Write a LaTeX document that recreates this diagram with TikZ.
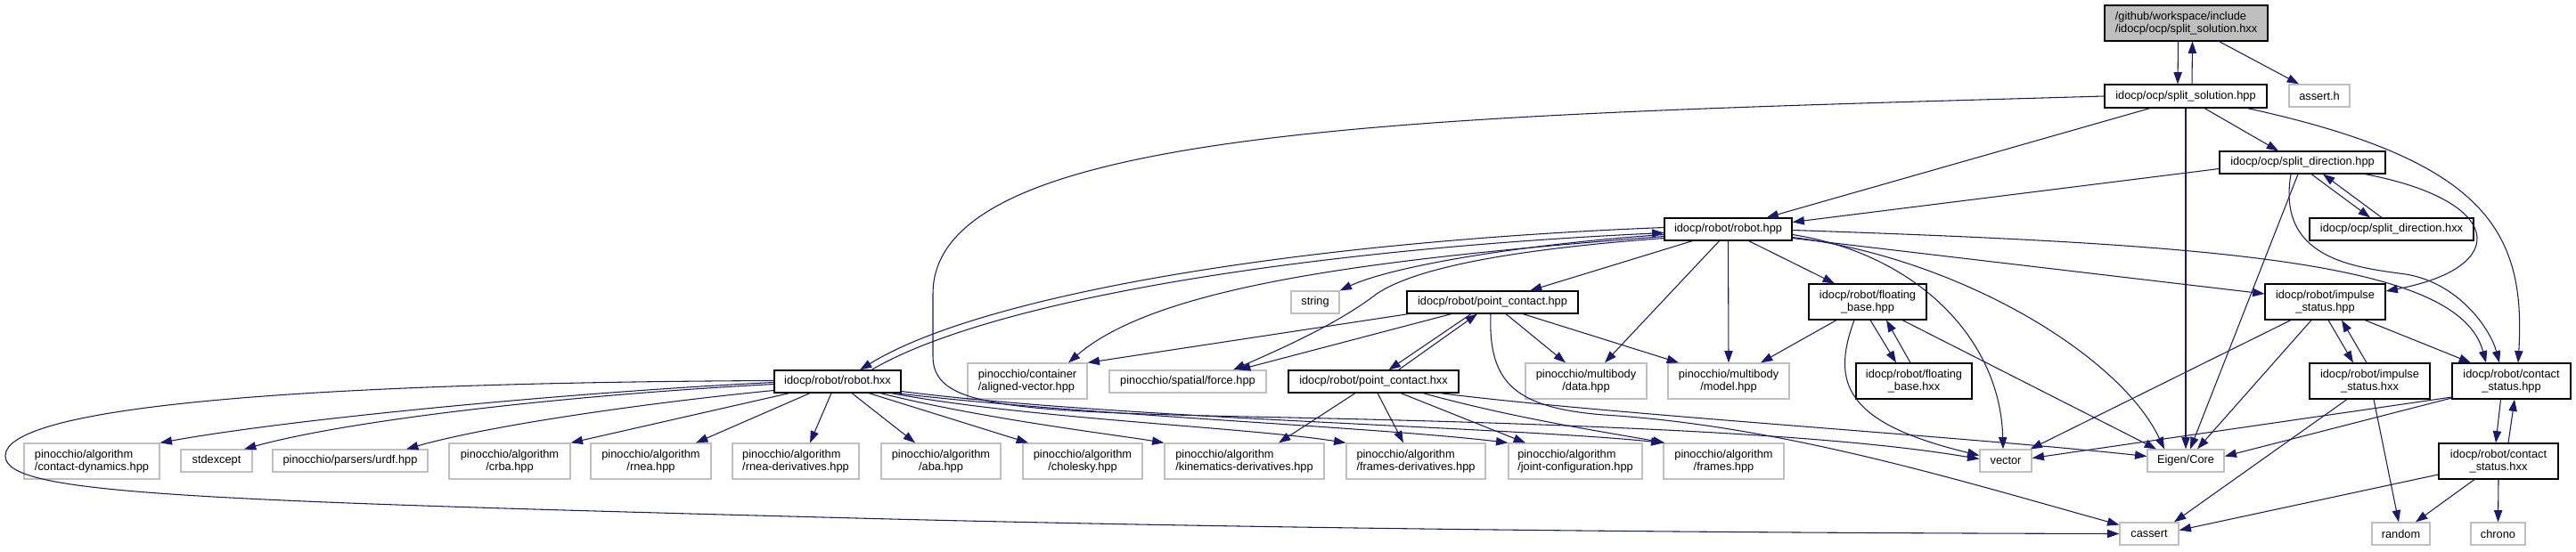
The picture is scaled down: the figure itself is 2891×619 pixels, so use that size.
\documentclass[tikz,border=0pt]{standalone}
\usepackage{fontspec}
\setmainfont{Liberation Sans}
\usetikzlibrary{arrows.meta,calc}
\definecolor{edgec}{HTML}{191970}
\definecolor{greyb}{HTML}{BFBFBF}
\newcommand\dxf{\fontsize{9.6pt}{10.7pt}\selectfont}
\tikzset{
  nb/.style={draw=black, line width=0.85pt, fill=white, inner sep=0pt, font=\dxf, text=black},
  gb/.style={draw=greyb, line width=0.95pt, fill=white, inner sep=0pt, font=\dxf, text=black},
  rootb/.style={nb, fill=greyb},
  sz/.style 2 args={minimum width=#1*0.75pt, minimum height=#2*0.75pt},
  e/.style={draw=edgec, line width=0.8pt, -{Triangle[length=10pt,width=7pt]}},
}
\begin{document}
\begin{tikzpicture}[x=0.75pt,y=-0.75pt]
\useasboundingbox (0,0) rectangle (2891,619);
% row 1-4
\node[rootb, sz={183}{40}, align=left] (root) at (2453.5,26) {/github/workspace/include\\/idocp/ocp/split\_solution.hxx};
\node[nb, sz={182}{26}] (ssh) at (2453,108) {idocp/ocp/split\_solution.hpp};
\node[gb, sz={68}{25}] (asrt) at (2603,107.5) {assert.h};
\node[nb, sz={186}{25}] (sdp) at (2584,182.5) {idocp/ocp/split\_direction.hpp};
\node[nb, sz={143}{25}] (rhpp) at (1939.5,257.5) {idocp/robot/robot.hpp};
\node[nb, sz={184}{25}] (sdx) at (2684,257.5) {idocp/ocp/split\_direction.hxx};
% row 5
\node[gb, sz={54}{25}] (str) at (1476,339.5) {string};
\node[nb, sz={192}{25}] (pchpp) at (1675,339.5) {idocp/robot/point\_contact.hpp};
\node[nb, sz={132}{40}, align=center] (fbhpp) at (2096,339) {idocp/robot/floating\\\_base.hpp};
\node[nb, sz={135}{40}, align=center] (ishpp) at (2609.5,339) {idocp/robot/impulse\\\_status.hpp};
% row 6
\node[nb, sz={142}{25}] (rhxx) at (940,428.5) {idocp/robot/robot.hxx};
\node[gb, sz={134}{40}, align=left] (avec) at (1153,428) {pinocchio/container\\/aligned-vector.hpp};
\node[gb, sz={176}{25}] (force) at (1333,428.5) {pinocchio/spatial/force.hpp};
\node[nb, sz={191}{25}] (pchxx) at (1541.5,428.5) {idocp/robot/point\_contact.hxx};
\node[gb, sz={136}{40}, align=center] (data) at (1780,428) {pinocchio/multibody\\/data.hpp};
\node[gb, sz={136}{40}, align=center] (model) at (1940,428) {pinocchio/multibody\\/model.hpp};
\node[nb, sz={130}{40}, align=center] (fbhxx) at (2148,428) {idocp/robot/floating\\\_base.hxx};
\node[nb, sz={135}{40}, align=center] (ishxx) at (2659.5,428) {idocp/robot/impulse\\\_status.hxx};
\node[nb, sz={133}{40}, align=center] (cshpp) at (2818.5,428) {idocp/robot/contact\\\_status.hpp};
% row 7
\node[gb, sz={152}{40}, align=left] (cdyn) at (103,518) {pinocchio/algorithm\\/contact-dynamics.hpp};
\node[gb, sz={80}{25}] (stdexc) at (243,517.5) {stdexcept};
\node[gb, sz={174}{25}] (urdf) at (393,517.5) {pinocchio/parsers/urdf.hpp};
\node[gb, sz={136}{40}, align=center] (crba) at (572,518) {pinocchio/algorithm\\/crba.hpp};
\node[gb, sz={135}{40}, align=center] (rnea) at (730.5,518) {pinocchio/algorithm\\/rnea.hpp};
\node[gb, sz={142}{40}, align=left] (rnead) at (893,518) {pinocchio/algorithm\\/rnea-derivatives.hpp};
\node[gb, sz={134}{40}, align=center] (aba) at (1056,518) {pinocchio/algorithm\\/aba.hpp};
\node[gb, sz={134}{40}, align=center] (chol) at (1215,518) {pinocchio/algorithm\\/cholesky.hpp};
\node[gb, sz={179}{40}, align=left] (kind) at (1396.5,518) {pinocchio/algorithm\\/kinematics-derivatives.hpp};
\node[gb, sz={156}{40}, align=left] (framd) at (1589,518) {pinocchio/algorithm\\/frames-derivatives.hpp};
\node[gb, sz={150}{40}, align=left] (jconf) at (1768,518) {pinocchio/algorithm\\/joint-configuration.hpp};
\node[gb, sz={135}{40}, align=center] (frames) at (1934.5,518) {pinocchio/algorithm\\/frames.hpp};
\node[gb, sz={58}{25}] (vect) at (2251,517.5) {vector};
\node[gb, sz={86}{25}] (eigen) at (2453,517.5) {Eigen/Core};
\node[nb, sz={134}{40}, align=center] (cshxx) at (2804,518) {idocp/robot/contact\\\_status.hxx};
% row 8
\node[gb, sz={66}{25}] (cassert) at (2412,599.5) {cassert};
\node[gb, sz={65}{25}] (random) at (2694.5,599.5) {random};
\node[gb, sz={61}{25}] (chrono) at (2803.5,599.5) {chrono};

% edges
\draw[e] ($(root.south)+(-9,0)$) -- ($(ssh.north)+(-9,0)$);
\draw[e] ($(ssh.north)+(7,0)$) -- ($(root.south)+(7,0)$);
\draw[e] ($(root.south)+(37,0)$) -- ($(asrt.north)+(-23,0)$);
\draw[e] ($(ssh.south)+(-40,0)$) -- ($(rhpp.north)+(43,0)$);
\draw[e] ($(ssh.south)+(21,0)$) -- ($(sdp.north)+(-27,0)$);
\draw[e] ($(ssh.south)+(69,0)$) .. controls (2790,180) and (2835,260) .. ($(cshpp.north)+(7.5,0)$);
\draw[e] (ssh.south) -- (eigen.north);
\draw[e] (ssh.west) .. controls (1600,130) and (1047,140) .. (1047,330) -- (1047,400) .. controls (1047,455) and (1120,462) .. (1400,468) .. controls (1900,478) and (2100,495) .. ($(vect.west)+(0,-2)$);
\draw[e] ($(sdp.west)+(0,7)$) -- ($(rhpp.east)+(0,-8)$);
\draw[e] ($(sdp.south)+(10,0)$) -- ($(sdx.north)+(-24,0)$);
\draw[e] ($(sdx.north)+(-11,0)$) -- ($(sdp.south)+(23,0)$);
\draw[e] ($(sdp.south)+(70,0)$) .. controls (2810,225) and (2820,300) .. ($(ishpp.east)+(0,-12)$);
\draw[e] ($(sdp.south)+(-13,0)$) .. controls (2555,290) and (2640,300) .. (2700,308) .. controls (2760,318) and (2795,370) .. ($(cshpp.north)+(-13.5,0)$);
\draw[e] ($(sdp.south)+(-5,0)$) -- ($(eigen.north)+(5,0)$);
\draw[e] ($(rhpp.west)+(0,-2)$) .. controls (1450,272) and (1100,332) .. ($(rhxx.north)+(25,0)$);
\draw[e] ($(rhxx.north)+(38,0)$) .. controls (1110,338) and (1455,281) .. ($(rhpp.west)+(0,4)$);
\draw[e] ($(rhpp.west)+(0,6)$) .. controls (1700,275) and (1560,300) .. (str.north east);
\draw[e] ($(rhpp.south)+(-40,0)$) -- ($(pchpp.north)+(42,0)$);
\draw[e] ($(rhpp.west)+(0,8)$) .. controls (1550,290) and (1300,320) .. ($(avec.north)+(46,0)$);
\draw[e] ($(rhpp.west)+(0,10)$) .. controls (1700,280) and (1590,300) .. (1545,330) .. controls (1500,365) and (1430,395) .. ($(force.north)+(51,0)$);
\draw[e] ($(rhpp.south)+(-10,0)$) -- ($(data.north)+(21,0)$);
\draw[e] (rhpp.south) -- (model.north);
\draw[e] ($(rhpp.south)+(23,0)$) -- ($(fbhpp.north)+(-37,0)$);
\draw[e] ($(rhpp.east)+(0,6)$) .. controls (2150,285) and (2245,380) .. ($(vect.north)+(-3,0)$);
\draw[e] ($(rhpp.east)+(0,9)$) .. controls (2200,290) and (2380,400) .. ($(eigen.north)+(-24,0)$);
\draw[e] ($(rhpp.east)+(0,10)$) -- ($(ishpp.west)+(0,-9)$);
\draw[e] ($(rhpp.east)+(0,1)$) .. controls (2500,275) and (2760,295) .. ($(cshpp.north)+(-28.5,0)$);
\draw[e] ($(pchpp.south)+(-94,0)$) -- (avec.north east);
\draw[e] ($(pchpp.south)+(-46,0)$) -- ($(force.north)+(57,0)$);
\draw[e] ($(pchpp.south)+(-24,0)$) -- ($(pchxx.north)+(17,0)$);
\draw[e] ($(pchxx.north)+(28,0)$) -- ($(pchpp.south)+(-17,0)$);
\draw[e] ($(pchpp.south)+(15,0)$) -- ($(data.north)+(-23,0)$);
\draw[e] ($(pchpp.south)+(34,0)$) -- ($(model.north)+(-56,0)$);
\draw[e] ($(pchpp.south)+(-2,0)$) .. controls (1670,430) and (1700,458) .. (1800,466) .. controls (2000,478) and (2200,540) .. ($(cassert.west)+(0,-10)$);
\draw[e] ($(fbhpp.south)+(-35,0)$) -- ($(model.north)+(36,0)$);
\draw[e] ($(fbhpp.south)+(-15,0)$) .. controls (2055,430) and (2070,475) .. ($(vect.west)+(0,-6)$);
\draw[e] ($(fbhpp.south)+(3,0)$) -- ($(fbhxx.north)+(-20,0)$);
\draw[e] ($(fbhxx.north)+(-4,0)$) -- ($(fbhpp.south)+(21,0)$);
\draw[e] ($(fbhpp.south)+(39,0)$) -- ($(eigen.north)+(-33,0)$);
\draw[e] ($(ishpp.south)+(-38.5,0)$) -- ($(vect.north east)+(-2,0)$);
\draw[e] ($(ishpp.south)+(-15.5,0)$) -- ($(eigen.north)+(13,0)$);
\draw[e] ($(ishpp.south)+(3.5,0)$) -- ($(ishxx.north)+(-18.5,0)$);
\draw[e] ($(ishxx.north)+(-3.5,0)$) -- ($(ishpp.south)+(18.5,0)$);
\draw[e] ($(ishpp.south)+(44.5,0)$) -- ($(cshpp.north)+(-45.5,0)$);
\draw[e] ($(ishxx.south)+(-25.5,0)$) -- ($(cassert.north)+(28,0)$);
\draw[e] ($(ishxx.south)+(4.5,0)$) -- ($(random.north)+(-2.5,0)$);
\draw[e] ($(cshpp.west)+(0,18)$) -- ($(vect.east)+(0,-3)$);
\draw[e] ($(cshpp.west)+(0,19)$) -- ($(eigen.east)+(0,-5)$);
\draw[e] ($(cshpp.south)+(-12,0)$) -- ($(cshxx.north)+(-3,0)$);
\draw[e] ($(cshxx.north)+(11,0)$) -- ($(cshpp.south)+(3.5,0)$);
\draw[e] ($(cshxx.west)+(0,15)$) -- ($(cassert.east)+(0,-4)$);
\draw[e] ($(cshxx.south)+(-27,0)$) -- ($(random.north)+(16.5,0)$);
\draw[e] (cshxx.south) -- (chrono.north);
\draw[e] ($(rhxx.west)+(0,1)$) .. controls (650,440) and (330,470) .. (cdyn.north east);
\draw[e] ($(rhxx.west)+(0,3)$) .. controls (650,443) and (400,470) .. ($(stdexc.north)+(31,0)$);
\draw[e] ($(rhxx.west)+(0,-1)$) .. controls (300,430) and (6,460) .. (6,512) .. controls (6,555) and (200,562) .. (1000,583) .. controls (1600,598) and (2200,599) .. (cassert.west);
\draw[e] ($(rhxx.west)+(0,10)$) .. controls (750,450) and (560,475) .. ($(urdf.north)+(63,0)$);
\draw[e] ($(rhxx.south)+(-54,0)$) -- (crba.north east);
\draw[e] ($(rhxx.south)+(-31,0)$) -- ($(rnea.north)+(50.5,0)$);
\draw[e] ($(rhxx.south)+(-7,0)$) -- ($(rnead.north)+(16,0)$);
\draw[e] ($(rhxx.south)+(16,0)$) -- ($(aba.north)+(-29,0)$);
\draw[e] ($(rhxx.south)+(35,0)$) -- ($(chol.north)+(-61,0)$);
\draw[e] ($(rhxx.south)+(48,0)$) .. controls (1100,470) and (1250,488) .. (kind.north west);
\draw[e] ($(rhxx.south)+(60,0)$) .. controls (1150,470) and (1400,480) .. (framd.north west);
\draw[e] ($(rhxx.south)+(65,0)$) .. controls (1200,465) and (1550,480) .. (jconf.north west);
\draw[e] ($(rhxx.east)+(0,11)$) .. controls (1250,470) and (1700,480) .. (frames.north west);
\draw[e] ($(pchxx.south)+(-20.5,0)$) -- ($(kind.north)+(38.5,0)$);
\draw[e] ($(pchxx.south)+(4.5,0)$) -- ($(framd.north)+(-14,0)$);
\draw[e] ($(pchxx.south)+(30.5,0)$) -- ($(jconf.north)+(-56,0)$);
\draw[e] ($(pchxx.south)+(55.5,0)$) .. controls (1700,470) and (1800,485) .. ($(frames.north west)+(2,0)$);
\draw[e] ($(pchxx.south)+(74.5,0)$) .. controls (1800,465) and (2200,490) .. ($(eigen.west)+(0,-5)$);
\end{tikzpicture}
\end{document}
